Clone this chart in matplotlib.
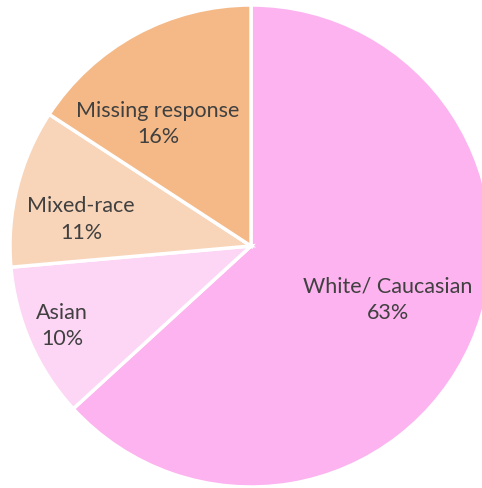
import matplotlib
matplotlib.use("Agg")
import numpy as np
import matplotlib.pyplot as plt

labels = ["White/ Caucasian", "Asian", "Mixed-race", "Missing response"]
values = [63.2, 10.4, 10.6, 15.8]
colors = ["#FCB3EF", "#FDD5F5", "#F8D4B8", "#F4B987"]

plt.rcParams['font.family'] = ['Lato', 'DejaVu Sans']

fig = plt.figure(figsize=(4.82, 4.88), dpi=100)
r_px = 241
cx, cy = 251, 246
ax = fig.add_axes([(cx - r_px) / 482, (488 - cy - r_px) / 488, 2 * r_px / 482, 2 * r_px / 488])
wedges, _ = ax.pie(values, colors=colors, startangle=90, counterclock=False,
                   radius=1, wedgeprops=dict(edgecolor="white", linewidth=2.5))
ax.set_xlim(-1, 1)
ax.set_ylim(-1, 1)
ax.set_aspect("equal")

# label placement (data units, pie radius = 1)
label_xy = [(0.568, -0.222), (-0.784, -0.332), (-0.705, 0.110), (-0.386, 0.506)]

for lab, v, (x, y) in zip(labels, values, label_xy):
    ax.text(x, y, f"{lab}\n{round(v):.0f}%", ha="center", va="center",
            fontsize=15.5, color="#404040", linespacing=1.38)

fig.savefig("out.png", dpi=100)
